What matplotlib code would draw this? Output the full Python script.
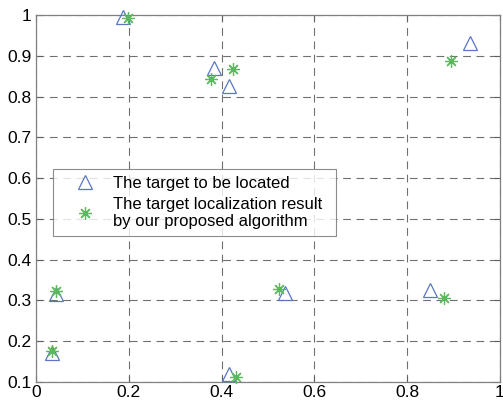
import numpy as np
import matplotlib
matplotlib.use("Agg")
from matplotlib import pyplot as plt

plt.rcParams['font.family'] = ['Liberation Sans', 'DejaVu Sans']

# true target positions (triangles)
target_x = [0.187, 0.383, 0.417, 0.935, 0.043, 0.034, 0.415, 0.537, 0.850]
target_y = [0.995, 0.870, 0.825, 0.932, 0.315, 0.172, 0.120, 0.318, 0.326]

# localization results (asterisks)
est_x = [0.198, 0.377, 0.425, 0.894, 0.043, 0.035, 0.431, 0.524, 0.880]
est_y = [0.993, 0.843, 0.868, 0.888, 0.323, 0.176, 0.112, 0.327, 0.305]

labels = ["The target to be located",
          "The target localization result\nby our proposed algorithm"]

xticks = [0, 0.2, 0.4, 0.6, 0.8, 1]
yticks = [0.1, 0.2, 0.3, 0.4, 0.5, 0.6, 0.7, 0.8, 0.9, 1]

fig = plt.figure(figsize=(5.03, 4.03), dpi=100)
ax = fig.add_axes([36/503, 1-382/403, 464/503, 367/403])

ax.plot(target_x, target_y, linestyle="none", marker="^", markersize=10,
        markerfacecolor="none", markeredgecolor="#5a76c4", markeredgewidth=0.9,
        label=labels[0], clip_on=False, zorder=3)
ax.plot(est_x, est_y, linestyle="none", marker=(8, 2, 0), markersize=9,
        markeredgecolor="#5cb85c", color="#5cb85c", markeredgewidth=0.9,
        label=labels[1], clip_on=False, zorder=3)

ax.set_xlim(0, 1)
ax.set_ylim(0.1, 1)
ax.set_xticks(xticks)
ax.set_xticklabels(["0", "0.2", "0.4", "0.6", "0.8", "1"])
ax.set_yticks(yticks)
ax.set_yticklabels(["0.1", "0.2", "0.3", "0.4", "0.5", "0.6", "0.7", "0.8", "0.9", "1"])
ax.tick_params(direction="in", top=True, right=True, labelsize=12.5, length=4,
               color="#606060")
ax.tick_params(axis="y", pad=3)
ax.tick_params(axis="x", pad=2)
ax.grid(True, linestyle=(0, (7, 5)), color="#707070", linewidth=0.8)
for s in ax.spines.values():
    s.set_color("#808080")
    s.set_linewidth(0.9)

# legend box spans fixed area (axes coords)
lx0, lx1 = (53.3 - 36) / 464, (336 - 36) / 464
ly1 = (382 - 169.3) / 367
leg = ax.legend(loc="upper left", bbox_to_anchor=(lx0, ly1 - 0.2, lx1 - lx0, 0.2),
                mode="expand", borderaxespad=0, fontsize=12,
                frameon=True, fancybox=False, edgecolor="#707070",
                borderpad=0.4, handlelength=3.0, handletextpad=0.2,
                labelspacing=0.35)
leg.get_frame().set_linewidth(0.8)

fig.savefig("out.png", dpi=100)
